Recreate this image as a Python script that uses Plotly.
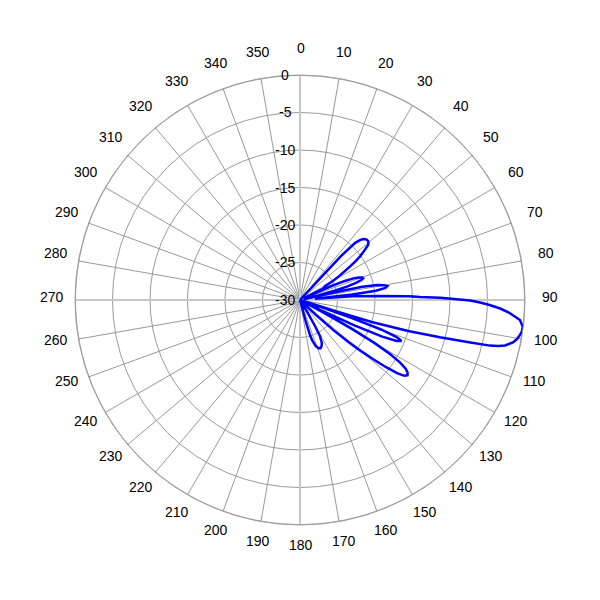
import math
import plotly.graph_objects as go

# Radiation pattern (angle in degrees, gain in dB)
angles = [0, 40, 42, 43, 44, 45, 46, 47, 48, 49, 50, 51, 52, 53, 54, 55, 56, 57, 58, 59, 60,
          61, 62, 63, 64, 65, 66, 67, 68, 69, 70, 71, 72, 73, 74, 75, 76, 77,
          77.5, 78, 79, 80, 81, 82, 83, 84, 85,
          85.5, 86, 87, 88, 88.6, 89.1, 90.2, 90.8, 91.5, 92.5, 93.6, 95.2, 96.8, 98, 99, 100.2, 101.2,
          102.5, 103.1, 103.5, 104,
          104.9, 106, 107, 107.5, 108,
          108.5, 109, 110, 111, 112, 113, 114, 115, 116, 116.5,
          117, 118, 119, 120, 121, 122, 123, 124, 125, 126, 127, 128, 129, 130, 131, 132, 133, 134,
          148, 149, 150, 151, 153, 155, 157, 159, 161, 163, 164, 165, 166, 360]
gain_db = [-30, -30, -30, -22, -19.4, -18.7, -18.3, -18.1, -18.0, -18.0, -18.1, -18.3, -18.9, -19.5, -20.1, -20.9, -21.8, -22.7, -23.5, -24.2, -25,
           -26.2, -26.3, -26.2, -26.8, -29.5, -25.5, -23.5, -22.3, -21.6, -21.2, -21.1, -21.4, -22.2, -23.4, -25, -27.5, -29.5,
           -26, -21.5, -19.5, -18.6, -18.2, -18.5, -19.8, -23, -28,
           -26, -23, -19.5, -15.5, -14, -11.3, -7.3, -6.0, -4.7, -3.2, -1.95, -0.55, -0.1, -0.1, -0.3, -0.6, -1.0,
           -2.0, -2.9, -3.95, -6.6,
           -10.7, -15, -20, -25, -30,
           -27, -23, -18.5, -16.2, -15.4, -16, -18, -22, -27, -30,
           -30, -26, -22, -18.5, -16, -14.3, -13.2, -12.7, -12.5, -12.8, -13.8, -15.5, -17.5, -19.5, -21.5, -24, -27, -30,
           -30, -28, -26, -24.5, -23.6, -23.2, -23, -23.1, -23.5, -24.3, -25, -27, -30, -30]

angular_ticks = list(range(0, 360, 10))
radial_ticks = [-30, -25, -20, -15, -10, -5, 0]
radial_range = [-30, 0]
main_axes = [0, 90, 180, 270]

# layout / style constants (pixels)
PLOT_PX = 450.0            # side of the square plotting area
RADIUS_PX = PLOT_PX / 2    # polar radius
ANG_LABEL_PX = 248.5       # distance of angular label centres from the pole
ANG_LABEL_DX = 1.0         # small global shift of angular labels (right)
ANG_LABEL_DY = 3.5         # small global shift of angular labels (up)
RAD_LABEL_OFFSET_PX = 15.0 # radial labels centred this far left of the 0° line
BORDER_INSET_PX = 0.5      # keep the border line fully inside the clip circle

font = dict(family="Liberation Sans, Arial, sans-serif", size=14, color="#000")
span = radial_range[1] - radial_range[0]

fig = go.Figure()

# Outer boundary circle at the top of the radial range
circle_theta = [a / 2 for a in range(0, 721)]
border_r = radial_range[1] - BORDER_INSET_PX / RADIUS_PX * span
fig.add_trace(go.Scatterpolar(
    r=[border_r] * len(circle_theta), theta=circle_theta, mode="lines",
    line=dict(color="#999999", width=1), hoverinfo="skip", showlegend=False,
    cliponaxis=False))

# Emphasised main axes (0/90/180/270)
for a in main_axes:
    fig.add_trace(go.Scatterpolar(
        r=radial_range, theta=[a, a], mode="lines",
        line=dict(color="#c8c8c8", width=2), hoverinfo="skip", showlegend=False))

fig.add_trace(go.Scatterpolar(
    r=gain_db, theta=angles, mode="lines",
    line=dict(color="#0000ff", width=2.5), showlegend=False))

annotations = []
# Angular tick labels, centred on their spoke direction (clockwise from north)
for t in angular_ticks:
    a = math.radians(t)
    annotations.append(dict(
        xref="paper", yref="paper", showarrow=False, text=str(t), font=font,
        x=0.5 + (ANG_LABEL_PX * math.sin(a) + ANG_LABEL_DX) / PLOT_PX,
        y=0.5 + (ANG_LABEL_PX * math.cos(a) + ANG_LABEL_DY) / PLOT_PX,
        xanchor="center", yanchor="middle"))
# Radial tick labels, centred just left of the 0° axis
for v in radial_ticks:
    R = (v - radial_range[0]) / span * RADIUS_PX
    annotations.append(dict(
        xref="paper", yref="paper", showarrow=False, text=str(v), font=font,
        x=0.5 - RAD_LABEL_OFFSET_PX / PLOT_PX, y=0.5 + R / PLOT_PX,
        xanchor="center", yanchor="middle"))

fig.update_layout(
    width=600, height=600,
    margin=dict(l=67, r=83, t=67, b=83),
    paper_bgcolor="white",
    font=font,
    annotations=annotations,
    polar=dict(
        bgcolor="white",
        domain=dict(x=[0, 1], y=[0, 1]),
        angularaxis=dict(
            rotation=90, direction="clockwise",
            tickmode="array", tickvals=angular_ticks,
            ticktext=[""] * len(angular_ticks),
            gridcolor="#999999", gridwidth=1,
            showline=True, linecolor="#999999", linewidth=1,
            ticks="outside", ticklen=12, tickcolor="rgba(0,0,0,0)",
        ),
        radialaxis=dict(
            range=radial_range, tickmode="array", tickvals=radial_ticks,
            ticktext=[""] * len(radial_ticks),
            angle=90, side="counterclockwise",
            gridcolor="#999999", gridwidth=1,
            showline=False, ticks="",
        ),
    ),
)

fig.write_html("out.html")
